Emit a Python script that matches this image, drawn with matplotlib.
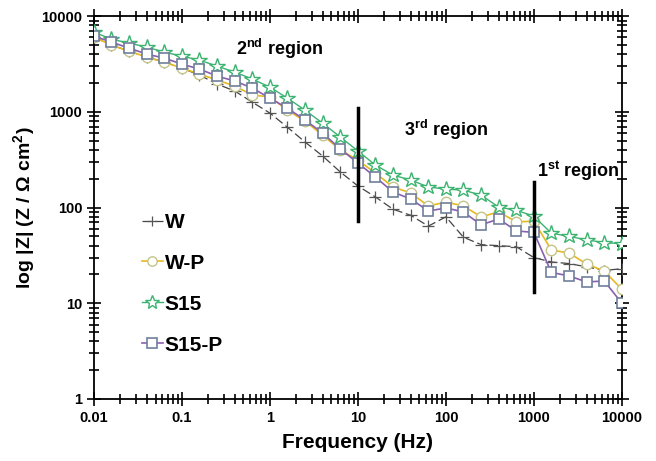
import numpy as np
import matplotlib.pyplot as plt
from matplotlib.ticker import LogLocator, FixedLocator, NullFormatter

plt.rcParams['font.family'] = ['Liberation Sans', 'DejaVu Sans']
plt.rcParams['mathtext.fontset'] = 'custom'
plt.rcParams['mathtext.rm'] = 'Liberation Sans'
plt.rcParams['mathtext.bf'] = 'Liberation Sans:bold'

# --- Data ---
# frequencies: 5 points per decade, 0.01 Hz .. 10 kHz
freq = [0.01, 0.0158, 0.0251, 0.0398, 0.0631,
        0.1, 0.158, 0.251, 0.398, 0.631,
        1, 1.58, 2.51, 3.98, 6.31,
        10, 15.8, 25.1, 39.8, 63.1,
        100, 158, 251, 398, 631,
        1000, 1580, 2510, 3980, 6310, 10000]

z_W = [6040, 4980, 4310, 3730, 3310, 2860, 2420, 1950, 1650, 1260,
       970, 690, 483, 345, 235, 168, 129, 96, 83, 64,
       80, 49, 41, 40, 39, 30, 27, 26, 24, 22, 23]
z_WP = [6040, 4980, 4310, 3730, 3310, 2860, 2480, 2150, 1860, 1500,
        1430, 1040, 800, 570, 400, 313, 229, 164, 142, 104,
        114, 104, 80, 90, 71, 72, 36, 33.5, 25.7, 21.7, 14]
z_S15 = [6800, 5750, 5220, 4750, 4200, 3820, 3470, 3000, 2600, 2200,
         1810, 1390, 1040, 760, 545, 390, 278, 218, 194, 164,
         156, 152, 135, 101, 94, 81, 54, 50, 46, 43, 42]
z_S15P = [6180, 5350, 4630, 4010, 3640, 3150, 2800, 2360, 2100, 1770,
          1390, 1090, 820, 600, 408, 292, 208, 145, 123, 92,
          99, 90, 66, 76, 57, 55, 21, 19.3, 16.7, 17.1, 10]

# region boundary markers
bound_x = [10, 1000]
bound_lo = [73, 13]
bound_hi = [1100, 185]

fig = plt.figure(figsize=(6.56, 4.61), dpi=100)
ax = fig.add_axes([0.1433, 0.1345, 0.8047, 0.8305])

ax.plot(freq, z_W, color='#444444', ls=(0, (7, 3)), lw=0.9,
        marker='+', ms=8, mew=0.9, mec='#555555', label='W', zorder=3)
ax.plot(freq, z_WP, color='#e8b820', lw=1.2,
        marker='o', ms=7.5, mfc='white', mec='#c4c48a', mew=1.0, label='W-P', zorder=4)
ax.plot(freq, z_S15, color='#3cb371', lw=1.0,
        marker='*', ms=11.5, mfc='white', mec='#3cb371', mew=1.0, label='S15', zorder=5)
ax.plot(freq, z_S15P, color='#8a5fb0', lw=1.2,
        marker='s', ms=7.5, mfc='white', mec='#6f7f9c', mew=1.2, label='S15-P', zorder=6)

for x, lo, hi in zip(bound_x, bound_lo, bound_hi):
    ax.plot([x, x], [lo, hi], color='black', lw=2.5, zorder=7)

ax.set_xscale('log')
ax.set_yscale('log')
ax.set_xlim(0.01, 10000)
ax.set_ylim(1, 10000)

ax.xaxis.set_major_locator(FixedLocator([0.01, 0.1, 1, 10, 100, 1000, 10000]))
ax.yaxis.set_major_locator(FixedLocator([1, 10, 100, 1000, 10000]))
ax.set_xticklabels(['0.01', '0.1', '1', '10', '100', '1000', '10000'])
ax.set_yticklabels(['1', '10', '100', '1000', '10000'])
ax.xaxis.set_minor_locator(LogLocator(base=10, subs=np.arange(2, 10), numticks=20))
ax.yaxis.set_minor_locator(LogLocator(base=10, subs=np.arange(2, 10), numticks=20))
ax.xaxis.set_minor_formatter(NullFormatter())
ax.yaxis.set_minor_formatter(NullFormatter())

ax.tick_params(which='both', direction='inout', top=True, right=True, width=1.2)
ax.tick_params(which='major', length=10)
ax.tick_params(which='minor', length=7)
ax.tick_params(axis='both', labelsize=10.5)
for lab in ax.get_xticklabels() + ax.get_yticklabels():
    lab.set_fontweight('bold')
for sp in ax.spines.values():
    sp.set_linewidth(1.3)

ax.set_xlabel('Frequency (Hz)', fontsize=15, fontweight='bold', labelpad=6)
ax.set_ylabel(r'log |Z| (Z / $\mathbf{\Omega}$ cm$^{\mathbf{2}}$)', fontsize=14, fontweight='bold', labelpad=2)

ax.text(0.41, 4500, r'2$^{\mathbf{nd}}$ region', fontsize=13, fontweight='bold', va='center')
ax.text(33, 640, r'3$^{\mathbf{rd}}$ region', fontsize=13, fontweight='bold', va='center')
ax.text(1080, 240, r'1$^{\mathbf{st}}$ region', fontsize=13, fontweight='bold', va='center')

leg = ax.legend(loc='upper left', bbox_to_anchor=(0.055, 0.535), frameon=False,
                handlelength=1.0, handletextpad=0.1, labelspacing=1.05,
                prop={'size': 15, 'weight': 'bold'}, markerscale=0.9)

fig.savefig('out.png', dpi=100)
